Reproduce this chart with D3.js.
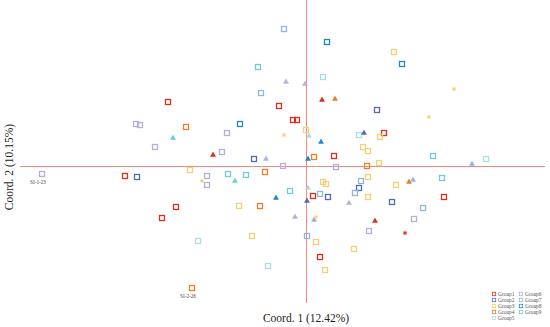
<!DOCTYPE html>
<html>
<head>
<meta charset="utf-8">
<script src="https://cdn.jsdelivr.net/npm/d3@7"></script>
<style>
  body { margin: 0; background: #fff; }
  svg { display: block; font-family: "Liberation Serif", "Times New Roman", serif; }
</style>
</head>
<body>
<div id="chart"></div>
<script>
// Group names and colours
const groups = ["Group1", "Group2", "Group3", "Group4", "Group5", "Group6", "Group7", "Group8", "Group9"];
const groupColors = ["#d7301f", "#4f6ea8", "#f5cf76", "#ee7d2a", "#a9dfe2", "#b4b1d8", "#92b4de", "#1f86cc", "#6fcdd2"];

// PCoA scores: [coord1, coord2, group]
const squares = [
  [-0.096, 0.198, 8], [-0.044, 0.274, 6], [0.042, 0.248, 7], [0.176, 0.228, 2], [0.192, 0.204, 7],
  [0.034, 0.178, 4], [-0.054, 0.120, 0], [-0.026, 0.092, 0], [-0.018, 0.092, 0], [0.142, 0.112, 1],
  [0.000, 0.072, 2], [0.106, 0.062, 4], [0.156, 0.066, 0], [0.148, 0.058, 2], [0.114, 0.038, 2],
  [0.124, 0.030, 2], [0.146, 0.006, 2], [0.016, 0.018, 3], [0.056, 0.020, 0], [-0.046, 0.000, 5],
  [0.060, -0.002, 5], [0.122, 0.000, 3], [-0.276, 0.128, 0], [-0.340, 0.084, 5], [-0.332, 0.082, 5],
  [-0.240, 0.078, 3], [-0.132, 0.084, 7], [-0.158, 0.066, 5], [-0.302, 0.038, 5], [-0.168, 0.028, 5],
  [-0.104, 0.014, 1], [-0.232, -0.008, 2], [-0.528, -0.016, 5], [-0.362, -0.020, 0], [-0.338, -0.022, 1],
  [-0.198, -0.020, 5], [-0.198, -0.038, 5], [-0.156, -0.016, 8], [-0.120, -0.018, 8], [-0.082, -0.012, 3],
  [-0.260, -0.082, 0], [-0.288, -0.104, 0], [-0.134, -0.080, 2], [-0.092, -0.080, 3], [-0.108, -0.140, 2],
  [-0.216, -0.150, 4], [-0.076, -0.200, 4], [-0.228, -0.244, 3], [0.254, 0.020, 8], [0.360, 0.014, 4],
  [0.272, -0.024, 8], [0.276, -0.062, 0], [0.234, -0.084, 6], [0.216, -0.106, 5], [0.034, -0.032, 2],
  [0.040, -0.036, 2], [0.124, -0.022, 2], [0.110, -0.030, 6], [0.106, -0.044, 1], [0.098, -0.054, 6],
  [0.180, -0.038, 2], [-0.032, -0.050, 8], [0.014, -0.060, 0], [0.028, -0.056, 6], [0.044, -0.062, 1],
  [0.124, -0.062, 2], [0.172, -0.072, 1], [0.126, -0.130, 5], [0.002, -0.140, 6], [0.020, -0.152, 2],
  [0.096, -0.166, 2], [0.028, -0.182, 0], [0.038, -0.208, 2], [-0.090, 0.146, 6]
];

const triangles = [
  [-0.040, 0.168, 5], [-0.002, 0.164, 5], [0.032, 0.132, 0], [0.058, 0.134, 3], [0.006, 0.060, 4],
  [0.030, 0.048, 7], [0.116, 0.066, 1], [0.004, 0.014, 7], [-0.266, 0.056, 8], [-0.186, 0.022, 0],
  [-0.080, 0.014, 5], [0.332, 0.004, 6], [-0.142, -0.030, 8], [0.206, -0.032, 3], [0.214, -0.028, 6],
  [0.004, -0.044, 4], [-0.060, -0.064, 7], [0.002, -0.070, 1], [0.086, -0.074, 5], [-0.022, -0.102, 5],
  [0.016, -0.108, 6], [0.138, -0.110, 0]
];

const stars = [
  [-0.044, 0.062, 2], [-0.208, -0.030, 2], [0.296, 0.154, 2], [0.246, 0.098, 2], [0.198, -0.134, 0],
  [0.020, -0.102, 2]
];

// labelled outliers
const labels = [
  { name: "SI-1-23", x: -0.528, y: -0.016 },
  { name: "SI-2-26", x: -0.228, y: -0.244 }
];

const width = 550, height = 327;

const svg = d3.select("#chart").append("svg")
  .attr("width", width)
  .attr("height", height);

const x = d3.scaleLinear().domain([-0.572, 0.478]).range([20, 545]);
const y = d3.scaleLinear().domain([-0.274, 0.332]).range([303, 0]);
const color = d3.scaleOrdinal().domain(d3.range(groups.length)).range(groupColors);

// zero lines
svg.append("line")
  .attr("x1", x(-0.572)).attr("x2", x(0.478))
  .attr("y1", y(0) + 0.5).attr("y2", y(0) + 0.5)
  .attr("stroke", "#ec8a80").attr("stroke-width", 1);

svg.append("line")
  .attr("x1", x(0) + 0.5).attr("x2", x(0) + 0.5)
  .attr("y1", y(0.332)).attr("y2", y(-0.274))
  .attr("stroke", "#ec8a80").attr("stroke-width", 1);

// squares
svg.selectAll("rect.pt")
  .data(squares)
  .enter()
  .append("rect")
  .attr("class", "pt")
  .attr("x", d => x(d[0]) - 2.5)
  .attr("y", d => y(d[1]) - 2.5)
  .attr("width", 5)
  .attr("height", 5)
  .attr("fill", "none")
  .attr("stroke", d => color(d[2]))
  .attr("stroke-width", 1.3);

// triangles
svg.selectAll("path.tri")
  .data(triangles)
  .enter()
  .append("path")
  .attr("class", "tri")
  .attr("transform", d => `translate(${x(d[0])},${y(d[1])})`)
  .attr("d", d3.symbol(d3.symbolTriangle, 15))
  .attr("fill", d => color(d[2]));

// asterisks
svg.selectAll("path.star")
  .data(stars)
  .enter()
  .append("path")
  .attr("class", "star")
  .attr("transform", d => `translate(${x(d[0])},${y(d[1])})`)
  .attr("d", d3.symbol(d3.symbolAsterisk, 14))
  .attr("fill", "none")
  .attr("stroke", d => color(d[2]))
  .attr("stroke-width", 1);

svg.selectAll("text.lbl")
  .data(labels)
  .enter()
  .append("text")
  .attr("class", "lbl")
  .attr("x", d => x(d.x) - 4)
  .attr("y", d => y(d.y) + 10)
  .attr("text-anchor", "middle")
  .style("font-size", "5.2px")
  .style("fill", "#444")
  .text(d => d.name);

// axis titles
svg.append("text")
  .attr("x", x(0))
  .attr("y", 322)
  .attr("text-anchor", "middle")
  .style("font-size", "11.5px")
  .style("fill", "#222")
  .text("Coord. 1 (12.42%)");

svg.append("text")
  .attr("transform", `translate(13, 167) rotate(-90)`)
  .attr("text-anchor", "middle")
  .style("font-size", "11.5px")
  .style("fill", "#222")
  .text("Coord. 2 (10.15%)");

// legend
const legend = svg.append("g");
groups.forEach((g, i) => {
  const col = i < 5 ? 0 : 1;
  const row = i < 5 ? i : i - 5;
  const lx = 494 + col * 27;
  const ly = 294 + row * 6;
  legend.append("rect")
    .attr("x", lx - 1.7).attr("y", ly - 1.7)
    .attr("width", 3.4).attr("height", 3.4)
    .attr("fill", "none")
    .attr("stroke", groupColors[i])
    .attr("stroke-width", 0.8);
  legend.append("text")
    .attr("x", lx + 4)
    .attr("y", ly + 1.8)
    .style("font-size", "5.4px")
    .style("fill", "#555")
    .text(g);
});
</script>
</body>
</html>
